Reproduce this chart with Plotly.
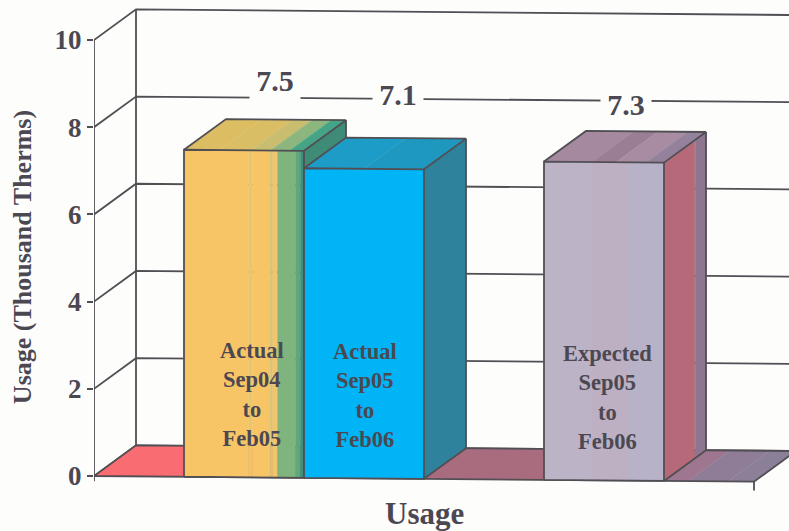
import plotly.graph_objects as go

# ---- data ----
series_names = ["Actual Sep04 to Feb05", "Actual Sep05 to Feb06", "Expected Sep05 to Feb06"]
series_values = [7.5, 7.1, 7.3]
series_slots = [0, 1, 3]
value_labels = ["7.5", "7.1", "7.3"]
bar_labels = ["Actual<br>Sep04<br>to<br>Feb05", "Actual<br>Sep05<br>to<br>Feb06", "Expected<br>Sep05<br>to<br>Feb06"]
y_ticks = [0, 2, 4, 6, 8, 10]

# ---- style / oblique projection ----
BG = "#FDFDFC"
LINE = "#514F54"
TXT = "#4C4852"
SERIF = "Liberation Serif"
X0, X1 = -0.75, 4.75      # category extent, bar-width units
DX, DY = 0.35, 0.711      # depth offset in x units / value units
SHEAR = 0.0237            # scanned page is slightly rotated

FRONT = {
    0: [(0, "#F8C566"), (.54, "#EBC76C"), (.57, "#F8C566"), (.72, "#D3C477"), (.74, "#F3C56A"),
        (.78, "#80B47F"), (.93, "#5FA87A"), (.97, "#3F8F7C")],
    1: [(0, "#00B4F6")],
    2: [(0, "#BCB3C6"), (.4, "#BDB0C2"), (.7, "#B8B2C8")],
}
TOP = {
    0: [(0, "#DCBD62"), (.3, "#D9BE66"), (.56, "#C9BD70"), (.72, "#8DB67F"), (.88, "#45A485")],
    1: [(0, "#1C9CC6"), (.5, "#1F98C0")],
    2: [(0, "#A5899E"), (.4, "#9C7E94"), (.6, "#A78CA2"), (.85, "#94829C")],
}
SIDE = {
    0: [(0, "#3E8B78")],
    1: [(0, "#2F829C")],
    2: [(0, "#B66A79"), (.72, "#AD6C7C"), (.75, "#8E7590")],
}
FLOOR = [(0, "#F96C71"), (.17, "#F96C71"), (.3, "#A96C7E"), (.68, "#AA6C80"), (.82, "#9E7690"),
         (.9, "#8F7C96"), (.96, "#8C8098")]
WALL_LINE = 1.8


def P(u, d, v):
    """Project (category position, depth fraction, value) to the axes."""
    x = u + d * DX
    return x, v + d * DY - SHEAR * (x - X0)


fig = go.Figure()


def poly(points, fill=None, line=True):
    xs = [p[0] for p in points]
    ys = [p[1] for p in points]
    fig.add_trace(go.Scatter(
        x=xs, y=ys, mode="lines", hoverinfo="skip", showlegend=False,
        fill="toself" if fill else None, fillcolor=fill,
        line=dict(color=LINE if line else (fill or LINE), width=WALL_LINE if line else 0.4),
    ))


def strips(stops, corner):
    ends = [s[0] for s in stops[1:]] + [1]
    for (f0, col), f1 in zip(stops, ends):
        poly([corner(f0, 0), corner(f1, 0), corner(f1, 1), corner(f0, 1), corner(f0, 0)], col, False)


# walls and gridlines
for v in y_ticks:
    poly([P(X0, 0, v), P(X0, 1, v), P(X1, 1, v)])
poly([P(X0, 1, 0), P(X0, 1, 10)])
poly([P(X0, 0, 0), P(X0, 0, 10)])

# floor
strips(FLOOR, lambda f, s: P(X0 + f * (X1 - X0), s, 0))
poly([P(X0, 0, 0), P(X0, 1, 0), P(X1, 1, 0), P(X1, 0, 0), P(X0, 0, 0)])
poly([P(X0, 0, 0), P(X0, 0, -0.12)])
poly([P(X1, 0, 0), P(X1, 0, -0.2)])

# bars
for i, (u, val) in enumerate(zip(series_slots, series_values)):
    strips(FRONT[i], lambda f, s: P(u + f, 0, s * val))
    strips(TOP[i], lambda f, s: P(u + f, s, val))
    strips(SIDE[i], lambda f, s: P(u + 1, f, s * val))
    a, b, c, d = P(u, 0, 0), P(u + 1, 0, 0), P(u + 1, 0, val), P(u, 0, val)
    e, g, h = P(u, 1, val), P(u + 1, 1, val), P(u + 1, 1, 0)
    poly([a, b, c, d, a])
    poly([d, e, g, c])
    poly([b, h, g])

# value labels sit in gaps of the 8-gridline
label_offsets = [(.408, .906), (.433, 1.02), (.333, .634)]
for u, txt, (ox, oy), val in zip(series_slots, value_labels, label_offsets, series_values):
    x, y = P(u + ox, 1, val + oy)
    fig.add_annotation(x=x, y=y, text=txt, showarrow=False, bgcolor=BG, width=48, height=38,
                       font=dict(family=SERIF, size=30, color=TXT, weight=700))

# labels inside bars
label_x = [.57, .51, .53]
label_y = [1.9, 1.9, 1.9]
for u, txt, lx, ly in zip(series_slots, bar_labels, label_x, label_y):
    x, y = P(u + lx, 0, ly)
    fig.add_annotation(x=x, y=y, text=txt, showarrow=False,
                       font=dict(family=SERIF, size=22.5, color=TXT, weight=700))

# axis titles
fig.add_annotation(x=(X0 + X1) / 2, yref="paper", y=0, yshift=-20, text="Usage", showarrow=False,
                   xanchor="center", yanchor="middle",
                   font=dict(family=SERIF, size=31, color=TXT, weight=700))
fig.add_annotation(xref="paper", x=0, xshift=-72, y=5.02, text="Usage (Thousand Therms)", textangle=-90,
                   showarrow=False, xanchor="center", yanchor="middle",
                   font=dict(family=SERIF, size=26, color=TXT, weight=700))

fig.update_layout(
    width=789, height=531, paper_bgcolor=BG, plot_bgcolor=BG, showlegend=False,
    margin=dict(l=94, r=0, t=0, b=38),
    xaxis=dict(range=[X0, X0 + 695 / 120], tickvals=[], showgrid=False, zeroline=False, showline=False),
    yaxis=dict(range=[(476 - 493) / 43.6, 476 / 43.6], tickvals=y_ticks, showgrid=False, zeroline=False,
               showline=False, ticks="outside", ticklen=6, tickwidth=1.8, tickcolor=LINE,
               tickfont=dict(family=SERIF, size=27, color=TXT, weight=700)),
)
fig.write_html("out.html", config={"displayModeBar": False},
               post_script="document.body.style.margin='0';document.body.style.background='%s';" % BG)
